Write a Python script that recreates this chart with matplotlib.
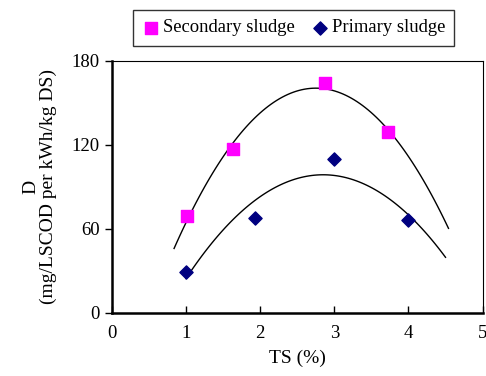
import matplotlib.pyplot as plt
import numpy as np

plt.rcParams['font.family'] = ['Liberation Serif', 'DejaVu Serif']

# secondary sludge (squares)
sec_ts = [1.02, 1.64, 2.87, 3.73]
sec_d = [69, 117, 164, 129]

# primary sludge (diamonds)
pri_ts = [1.0, 1.93, 2.99, 4.0]
pri_d = [29, 68, 110, 66]

x_ticks = [0, 1, 2, 3, 4, 5]
y_ticks = [0, 60, 120, 180]

fig = plt.figure(figsize=(4.86, 3.76), dpi=100)
ax = fig.add_axes([0.230, 0.168, 0.763, 0.670])

# 2nd order trendlines
sec_fit = np.polyfit(sec_ts, sec_d, 2)
xs = np.linspace(0.84, 4.54, 100)
ax.plot(xs, np.polyval(sec_fit, xs), color='black', lw=1)

pri_fit = np.polyfit(pri_ts, pri_d, 2)
xp = np.linspace(1.0, 4.5, 100)
ax.plot(xp, np.polyval(pri_fit, xp), color='black', lw=1)

ax.scatter(sec_ts, sec_d, marker='s', s=70, color='#ff00ff', zorder=3,
           label='Secondary sludge')
ax.scatter(pri_ts, pri_d, marker='D', s=45, color='#000080', zorder=3,
           label='Primary sludge')

ax.set_xlim(0, 5)
ax.set_ylim(0, 180)
ax.set_xticks(x_ticks)
ax.set_yticks(y_ticks)
ax.tick_params(axis='x', direction='in', length=5, width=1, pad=9, labelsize=13.5)
ax.tick_params(axis='y', direction='out', length=5, width=1, labelsize=13.5)

for side in ['left', 'bottom']:
    ax.spines[side].set_linewidth(1.8)
for side in ['top', 'right']:
    ax.spines[side].set_linewidth(0.8)

ax.set_xlabel('TS (%)', fontsize=14, labelpad=5)
ax.set_ylabel('D\n(mg/LSCOD per kWh/kg DS)', fontsize=14, labelpad=11,
              linespacing=1.0)

leg = ax.legend(loc='lower center', bbox_to_anchor=(0.49, 1.06), ncol=2,
                fontsize=13.4, frameon=True, fancybox=False, edgecolor='black',
                handletextpad=0.1, columnspacing=0.9, borderpad=0.5,
                handlelength=1.0, borderaxespad=0)
leg.get_frame().set_linewidth(1)

fig.savefig('out.png', dpi=100)
